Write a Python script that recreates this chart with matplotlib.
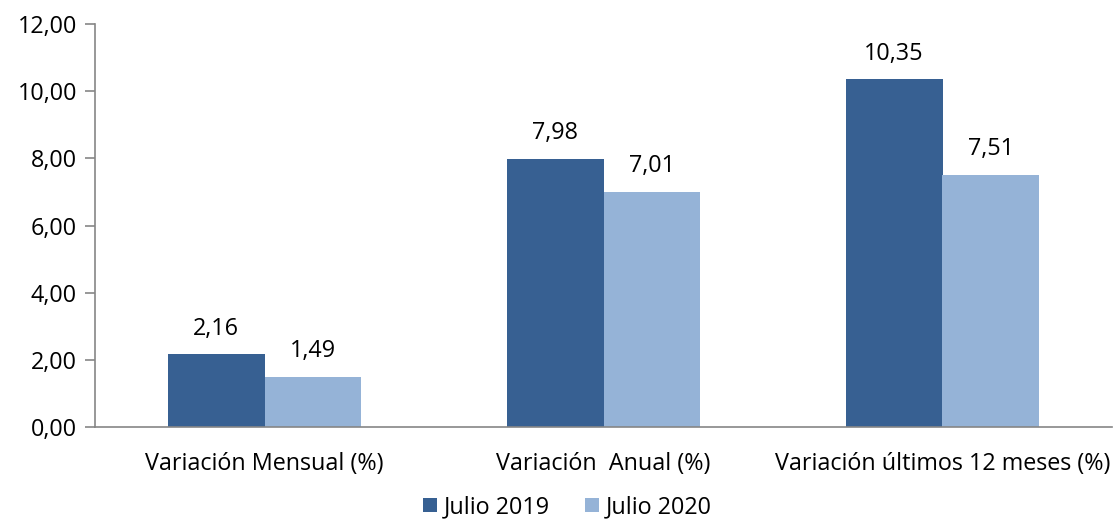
import matplotlib
matplotlib.use("Agg")
import matplotlib.pyplot as plt
import numpy as np

categories = ["Variación Mensual (%)", "Variación  Anual (%)", "Variación últimos 12 meses (%)"]
series_names = ["Julio 2019", "Julio 2020"]
julio_2019 = [2.16, 7.98, 10.35]
julio_2020 = [1.49, 7.01, 7.51]
colors = ["#376092", "#95B3D7"]

plt.rcParams['font.family'] = ['Open Sans', 'DejaVu Sans']
FS = 16.8
fig = plt.figure(figsize=(11.13, 5.27), dpi=100)
ax = fig.add_axes([95/1113, 1-427/527, 1017/1113, (427-24)/527])

x = np.arange(len(categories))
w = 0.286
fmt = lambda v: f"{v:.2f}".replace(".", ",")
for i, (vals, name) in enumerate([(julio_2019, series_names[0]), (julio_2020, series_names[1])]):
    pos = x + (i - 0.5) * w
    ax.bar(pos, vals, width=w, color=colors[i], label=name, zorder=2)
    for p, v in zip(pos, vals):
        ax.annotate(fmt(v), (p, v), xytext=(0, 10), textcoords="offset points",
                    ha="center", va="bottom", fontsize=FS, color="black")

ax.set_xlim(-0.5, 2.5)
ax.set_ylim(0, 12)
ax.set_yticks(np.arange(0, 12.01, 2))
ax.set_yticklabels([fmt(v) for v in np.arange(0, 12.01, 2)], fontsize=FS)
ax.set_xticks(x)
ax.set_xticklabels(categories, fontsize=FS)
ax.tick_params(axis="x", length=0, pad=18)
ax.tick_params(axis="y", length=7, color="#868686", width=1.2, pad=6)
for s in ["top", "right"]:
    ax.spines[s].set_visible(False)
for s in ["left", "bottom"]:
    ax.spines[s].set_color("#868686")
    ax.spines[s].set_linewidth(1.2)

fig.legend(loc="lower center", bbox_to_anchor=(0.51, -0.025), ncol=2, frameon=False,
           fontsize=FS, handlelength=0.6, handleheight=0.6, handletextpad=0.3, columnspacing=1.5)
fig.savefig("out.png", dpi=100)
